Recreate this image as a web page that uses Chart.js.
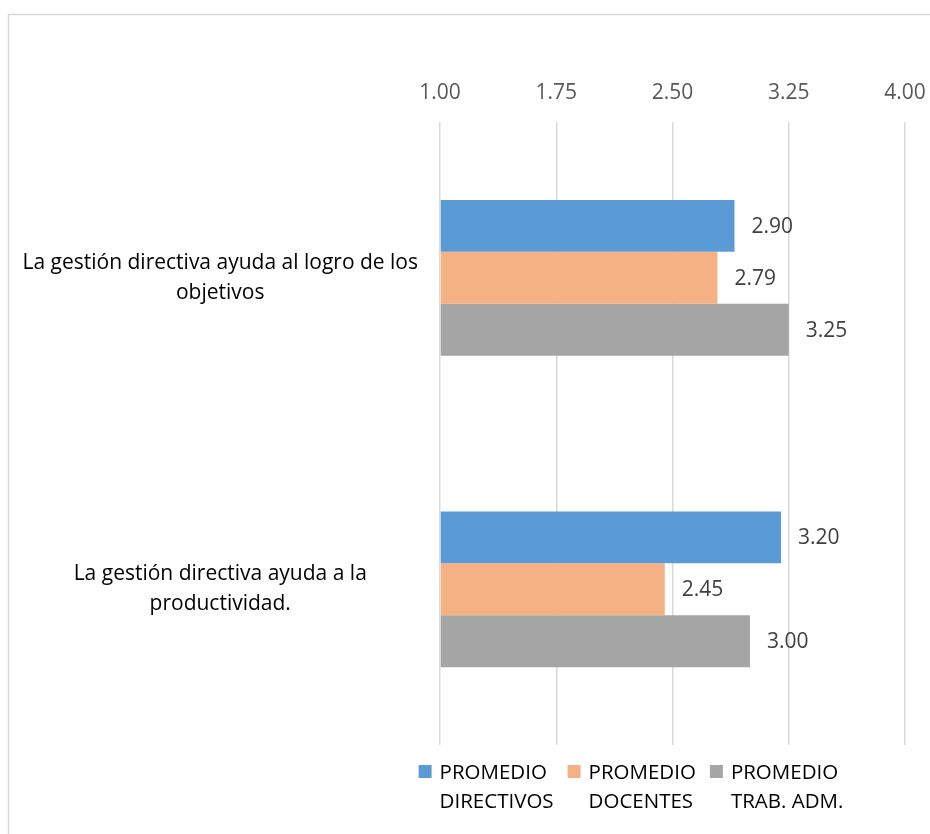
<!DOCTYPE html>
<html>
<head>
<meta charset="utf-8">
<script src="https://cdn.jsdelivr.net/npm/chart.js@4/dist/chart.umd.min.js"></script>
<style>
    html, body { margin: 0; background: #fff; overflow: hidden; }
    #wrap { position: relative; width: 930px; height: 834px; }
    #bar-chart { display: block; }
</style>
</head>
<body>
<div id="wrap"><canvas id="bar-chart"></canvas></div>
<script>
// categories (multi-line, as in the original)
const categories = [
    ["La gestión directiva ayuda al logro de los", "objetivos"],
    ["La gestión directiva ayuda a la", "productividad."]
];

const seriesNames = ["PROMEDIO DIRECTIVOS", "PROMEDIO DOCENTES", "PROMEDIO TRAB. ADM."];
const directivos = [2.90, 3.20];
const docentes = [2.79, 2.45];
const trabAdm = [3.25, 3.00];

const tickValues = [1.00, 1.75, 2.50, 3.25, 4.00];

const colors = ["#5B9BD5", "#F4B183", "#A5A5A5"];
const FONT = "'Open Sans', sans-serif";

// frame of the chart (light grey border, top + left visible)
const framePlugin = {
    id: "frame",
    beforeDraw(chart) {
        const ctx = chart.ctx;
        ctx.save();
        ctx.strokeStyle = "#d9d9d9";
        ctx.lineWidth = 1.5;
        ctx.beginPath();
        ctx.moveTo(8.5, 840);
        ctx.lineTo(8.5, 14.5);
        ctx.lineTo(940, 14.5);
        ctx.stroke();
        ctx.restore();
    }
};

// value labels right of each bar
const valueLabels = {
    id: "valueLabels",
    afterDatasetsDraw(chart) {
        const ctx = chart.ctx;
        ctx.save();
        ctx.font = "21px " + FONT;
        ctx.fillStyle = "#404040";
        ctx.textAlign = "left";
        ctx.textBaseline = "middle";
        chart.data.datasets.forEach((ds, i) => {
            chart.getDatasetMeta(i).data.forEach((bar, j) => {
                ctx.fillText(ds.data[j].toFixed(2), bar.x + 17, bar.y + 1);
            });
        });
        ctx.restore();
    }
};

// legend at the bottom with two-line labels
const bottomLegend = {
    id: "bottomLegend",
    afterDraw(chart) {
        const ctx = chart.ctx;
        ctx.save();
        ctx.font = "20.5px " + FONT;
        const box = 13, gapText = 8, gapItem = 14;

        const items = chart.data.datasets.map((ds, i) => {
            const idx = ds.label.indexOf(" ");
            const lines = [ds.label.slice(0, idx), ds.label.slice(idx + 1)];
            const w = Math.max(...lines.map(l => ctx.measureText(l).width));
            return { lines, w, color: ds.backgroundColor };
        });

        let total = 0;
        items.forEach((it, i) => {
            total += box + gapText + it.w + (i < items.length - 1 ? gapItem : 0);
        });

        let x = 631 - total / 2;
        ctx.textAlign = "left";
        ctx.textBaseline = "alphabetic";
        items.forEach(it => {
            ctx.fillStyle = it.color;
            ctx.fillRect(x, 765, box, box);
            ctx.fillStyle = "#000";
            ctx.fillText(it.lines[0], x + box + gapText, 779);
            ctx.fillText(it.lines[1], x + box + gapText, 808);
            x += box + gapText + it.w + gapItem;
        });
        ctx.restore();
    }
};

const ctx = document.getElementById("bar-chart").getContext("2d");

new Chart(ctx, {
    type: "bar",
    data: {
        labels: categories,
        datasets: [
            { label: seriesNames[0], data: directivos, backgroundColor: colors[0] },
            { label: seriesNames[1], data: docentes, backgroundColor: colors[1] },
            { label: seriesNames[2], data: trabAdm, backgroundColor: colors[2] }
        ]
    },
    options: {
        indexAxis: "y",
        responsive: true,
        maintainAspectRatio: false,
        animation: false,
        devicePixelRatio: 1,
        datasets: {
            bar: {
                categoryPercentage: 0.5,
                barPercentage: 1.0,
                base: 1
            }
        },
        layout: {
            padding: { left: 8, top: 80, right: 25, bottom: 89 }
        },
        plugins: {
            legend: { display: false },
            tooltip: { enabled: false }
        },
        scales: {
            x: {
                position: "top",
                min: 1,
                max: 4,
                afterBuildTicks(scale) {
                    scale.ticks = tickValues.map(v => ({ value: v }));
                },
                afterFit(scale) {
                    scale.height = 42;
                    scale.paddingLeft = 0;
                    scale.paddingRight = 0;
                },
                ticks: {
                    autoSkip: false,
                    maxRotation: 0,
                    padding: 16,
                    color: "#595959",
                    font: { family: FONT, size: 21 },
                    callback: v => Number(v).toFixed(2)
                },
                grid: {
                    color: "#d9d9d9",
                    lineWidth: 1.5,
                    drawTicks: false
                },
                border: { display: false }
            },
            y: {
                afterFit(scale) {
                    scale.width = 432;
                },
                ticks: {
                    crossAlign: "center",
                    padding: 22,
                    color: "#000",
                    font: { family: FONT, size: 21, lineHeight: 1.43 }
                },
                grid: { display: false, drawTicks: false },
                border: { display: false }
            }
        }
    },
    plugins: [framePlugin, valueLabels, bottomLegend]
});
</script>
</body>
</html>
